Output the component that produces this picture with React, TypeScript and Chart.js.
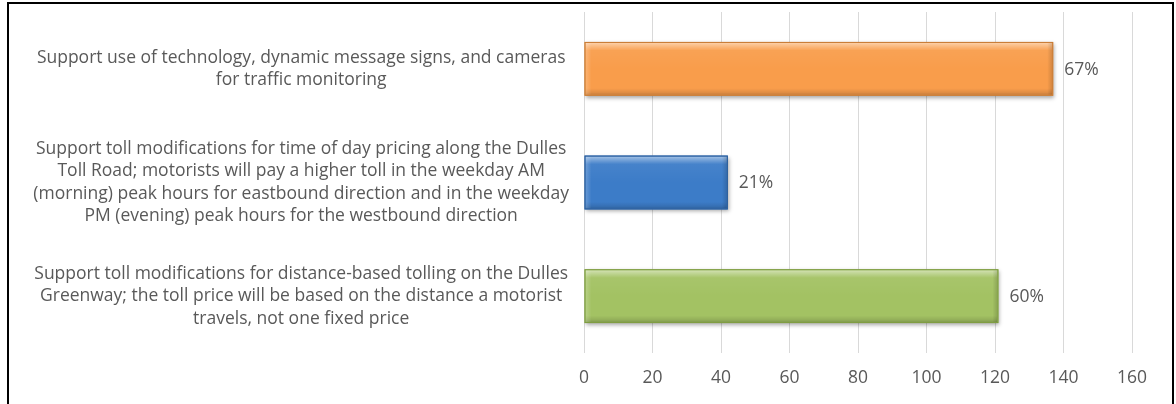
import React, { useEffect, useRef } from 'react';
import { Chart, registerables } from 'chart.js';

Chart.register(...registerables);

// ---- data ----
const categories: string[][] = [
  ['Support use of technology, dynamic message signs, and cameras', 'for traffic monitoring'],
  [
    'Support toll modifications for time of day pricing along the Dulles',
    'Toll Road; motorists will pay a higher toll in the weekday AM',
    '(morning) peak hours for eastbound direction and in the weekday',
    'PM (evening) peak hours for the westbound direction',
  ],
  [
    'Support toll modifications for distance-based tolling on the Dulles',
    'Greenway; the toll price will be based on the distance a motorist',
    'travels, not one fixed price',
  ],
];
const values: number[] = [137, 42, 121];
const percentLabels: string[] = ['67%', '21%', '60%'];
const barColors: string[] = ['#f99d4b', '#3c7cc8', '#a3c263'];
const barBorders: string[] = ['#c47a35', '#2b5c97', '#7b9a3e'];
const xMin = 0;
const xMax = 160;
const xStep = 20;

const FONT_FAMILY = '"Open Sans", sans-serif';
const FONT_SIZE = 17.5;
const TEXT_COLOR = '#595959';

export default function App() {
  const canvasRef = useRef<HTMLCanvasElement | null>(null);

  useEffect(() => {
    document.body.style.margin = '0';
    const canvas = canvasRef.current;
    if (!canvas) return;

    const mctx = document.createElement('canvas').getContext('2d')!;
    mctx.font = `${FONT_SIZE}px ${FONT_FAMILY}`;
    let widest = 0;
    categories.forEach((lines) => lines.forEach((l) => (widest = Math.max(widest, mctx.measureText(l).width))));
    const plotLeft = 584;
    const labelCenter = 301;
    const yPad = Math.max(4, Math.round(plotLeft - labelCenter - widest / 2));

    const shadowPlugin = {
      id: 'barShadow',
      beforeDatasetsDraw(chart: any) {
        const ctx = chart.ctx;
        ctx.save();
        ctx.shadowColor = 'rgba(0,0,0,0.35)';
        ctx.shadowBlur = 4;
        ctx.shadowOffsetX = 1;
        ctx.shadowOffsetY = 2;
      },
      afterDatasetsDraw(chart: any) {
        const ctx = chart.ctx;
        ctx.restore();
        const meta = chart.getDatasetMeta(0);
        meta.data.forEach((el: any, i: number) => {
          const p = el.getProps(['x', 'y', 'base', 'height'], true);
          const left = Math.min(p.base, p.x);
          const right = Math.max(p.base, p.x);
          const top = p.y - p.height / 2;
          const h = p.height;
          const w = right - left;
          ctx.save();
          const g = ctx.createLinearGradient(0, top, 0, top + h);
          g.addColorStop(0, 'rgba(255,255,255,0.6)');
          g.addColorStop(0.05, 'rgba(255,255,255,0.4)');
          g.addColorStop(0.16, 'rgba(255,255,255,0.05)');
          g.addColorStop(0.5, 'rgba(255,255,255,0)');
          g.addColorStop(0.86, 'rgba(0,0,0,0)');
          g.addColorStop(0.94, 'rgba(0,0,0,0.1)');
          g.addColorStop(1, 'rgba(0,0,0,0.25)');
          ctx.fillStyle = g;
          ctx.fillRect(left + 1, top + 1, w - 2, h - 2);
          const gl = ctx.createLinearGradient(left, 0, left + 7, 0);
          gl.addColorStop(0, 'rgba(255,255,255,0.25)');
          gl.addColorStop(1, 'rgba(255,255,255,0)');
          ctx.fillStyle = gl;
          ctx.fillRect(left + 1, top + 1, 7, h - 2);
          const gr = ctx.createLinearGradient(right - 6, 0, right, 0);
          gr.addColorStop(0, 'rgba(0,0,0,0)');
          gr.addColorStop(1, 'rgba(0,0,0,0.18)');
          ctx.fillStyle = gr;
          ctx.fillRect(right - 6, top + 1, 5, h - 2);
          ctx.strokeStyle = barBorders[i];
          ctx.lineWidth = 1;
          ctx.strokeRect(left + 0.5, top + 0.5, w - 1, h - 1);
          ctx.restore();

          ctx.save();
          ctx.fillStyle = TEXT_COLOR;
          ctx.font = `${FONT_SIZE}px ${FONT_FAMILY}`;
          ctx.textAlign = 'left';
          ctx.textBaseline = 'middle';
          ctx.fillText(percentLabels[i], right + 11, p.y + 1);
          ctx.restore();
        });
      },
    };

    const chart = new Chart(canvas, {
      type: 'bar',
      data: {
        labels: categories,
        datasets: [
          {
            data: values,
            backgroundColor: barColors,
            borderColor: barBorders,
            borderWidth: 0,
            borderSkipped: false,
            categoryPercentage: 1,
            barPercentage: 0.474,
          },
        ],
      },
      options: {
        indexAxis: 'y',
        responsive: false,
        animation: false,
        devicePixelRatio: 1,
        layout: { padding: { left: 0, right: 44, top: 12, bottom: 0 } },
        plugins: {
          legend: { display: false },
          tooltip: { enabled: false },
          title: { display: false },
        },
        scales: {
          x: {
            type: 'linear',
            min: xMin,
            max: xMax,
            ticks: {
              stepSize: xStep,
              color: TEXT_COLOR,
              font: { family: FONT_FAMILY, size: FONT_SIZE },
              padding: 15,
            },
            grid: { color: '#d9d9d9', lineWidth: 1, drawTicks: false },
            border: { display: false },
            afterFit(scale: any) {
              scale.height = 51;
              scale.paddingLeft = 0;
            },
          },
          y: {
            type: 'category',
            ticks: {
              color: TEXT_COLOR,
              font: { family: FONT_FAMILY, size: FONT_SIZE, lineHeight: '22.5px' },
              crossAlign: 'center',
              padding: yPad,
              autoSkip: false,
            },
            grid: { display: false, drawTicks: false },
            border: { display: false },
            afterFit(scale: any) {
              scale.width = plotLeft;
              scale.paddingTop = 0;
              scale.paddingBottom = 0;
            },
          },
        },
      },
      plugins: [shadowPlugin],
    } as any);

    return () => chart.destroy();
  }, []);

  return (
    <div style={{ position: 'absolute', left: 0, top: 0, width: 1176, height: 404, overflow: 'hidden', background: '#fff' }}>
      <canvas ref={canvasRef} width={1176} height={404} style={{ position: 'absolute', left: 0, top: 0 }} />
      <div
        style={{
          position: 'absolute',
          left: 7,
          top: 2,
          width: 1167,
          height: 500,
          border: '2px solid #000',
          boxSizing: 'border-box',
          pointerEvents: 'none',
        }}
      />
    </div>
  );
}
